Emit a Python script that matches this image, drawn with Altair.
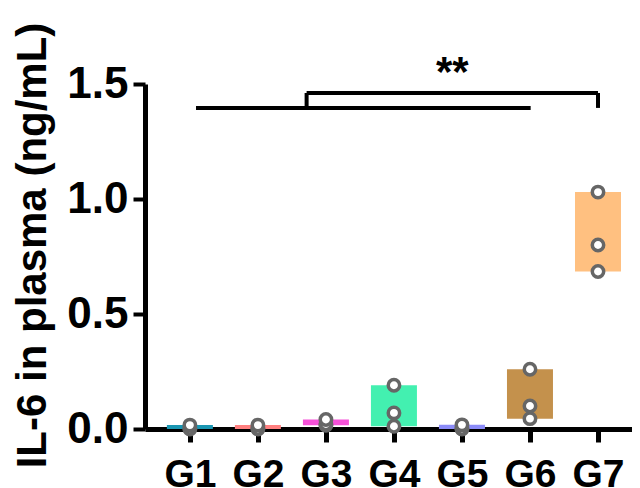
import json
import altair as alt
import pandas as pd

groups = ["G1", "G2", "G3", "G4", "G5", "G6", "G7"]
colors = ["#1996b2", "#ff8080", "#f550d8", "#43f0b0", "#8c8cf8", "#c4914c", "#ffc080"]
values = [
    [0.0, 0.003, 0.017],
    [0.0, 0.002, 0.017],
    [0.016, 0.022, 0.041],
    [0.012, 0.07, 0.19],
    [0.0, 0.002, 0.018],
    [0.045, 0.10, 0.26],
    [0.685, 0.80, 1.03],
]

# significance annotation (x in group-position units, y in data units)
hline_x = [1.09, 2.716]
hline_x2 = [6.01, 7.0]
hline_y = [1.396, 1.461]
vline_x = [2.716, 7.0]
vline_y = [1.396, 1.396]
vline_y2 = [1.461, 1.461]
star_text = "**"
star_x = 4.858
star_y = 1.49

pos = list(range(1, len(groups) + 1))
bars = pd.DataFrame({
    "pos": pos, "group": groups,
    "lo": [min(v) for v in values], "hi": [max(v) for v in values],
})
pts = pd.DataFrame([
    {"pos": p, "group": g, "val": v}
    for p, g, vs in zip(pos, groups, values) for v in vs
])
hl = pd.DataFrame({"x": hline_x, "x2": hline_x2, "y": hline_y})
vl = pd.DataFrame({"x": vline_x, "y": vline_y, "y2": vline_y2})
st = pd.DataFrame({"x": [star_x], "y": [star_y], "t": [star_text]})

FONT = "Liberation Sans"
xscale = alt.Scale(domain=[0.34, 7.5], nice=False, zero=False, padding=0)
yscale = alt.Scale(domain=[0, 1.5], nice=False, padding=0)

label_expr = json.dumps(groups) + "[datum.value - 1]"

xaxis = alt.Axis(
    values=pos, labelExpr=label_expr, title=None, grid=False,
    domainColor="black", domainWidth=5, tickColor="black", tickWidth=5,
    tickSize=13, labelFont=FONT, labelFontSize=39, labelFontWeight="bold",
    labelColor="black", labelBaseline="alphabetic", labelPadding=44,
    labelFlush=False, labelOverlap=False,
)
yaxis = alt.Axis(
    values=[0, 0.5, 1.0, 1.5], format=".1f", title="IL-6 in plasma (ng/mL)",
    grid=False, domainColor="black", domainWidth=5, tickColor="black",
    tickWidth=4, tickSize=12, labelFont=FONT, labelFontSize=44,
    labelFontWeight="bold", labelColor="black", labelPadding=5,
    titleFont=FONT, titleFontSize=42, titleFontWeight="bold", titleColor="black",
    titleAngle=270, titleBaseline="alphabetic", titleAlign="center",
    titleX=-100, titleY=161,
)

bar = alt.Chart(bars).mark_bar(size=46).encode(
    x=alt.X("pos:Q", scale=xscale, axis=xaxis),
    y=alt.Y("lo:Q", scale=yscale, axis=yaxis),
    y2="hi:Q",
    color=alt.Color("group:N", scale=alt.Scale(domain=groups, range=colors), legend=None),
)

points = alt.Chart(pts).mark_circle(
    size=130, fill="white", stroke="#666666", strokeWidth=3.5, opacity=1
).encode(x=alt.X("pos:Q", scale=xscale), y=alt.Y("val:Q", scale=yscale))

hrules = alt.Chart(hl).mark_rule(color="black", strokeWidth=4).encode(
    x=alt.X("x:Q", scale=xscale), x2="x2:Q", y=alt.Y("y:Q", scale=yscale)
)
vrules = alt.Chart(vl).mark_rule(color="black", strokeWidth=4).encode(
    x=alt.X("x:Q", scale=xscale), y=alt.Y("y:Q", scale=yscale), y2="y2:Q"
)
stars = alt.Chart(st).mark_text(
    font=FONT, fontSize=42, fontWeight="bold", color="black",
    baseline="alphabetic", align="center"
).encode(x=alt.X("x:Q", scale=xscale), y=alt.Y("y:Q", scale=yscale), text="t:N")

chart = alt.layer(bar, points, hrules, vrules, stars).properties(
    width=487, height=345,
    autosize=alt.AutoSizeParams(type="none"),
    padding={"left": 137, "top": 76, "right": 0, "bottom": 62},
).configure_view(stroke=None)

chart.save("out.html", embed_options={"renderer": "svg", "actions": False})
